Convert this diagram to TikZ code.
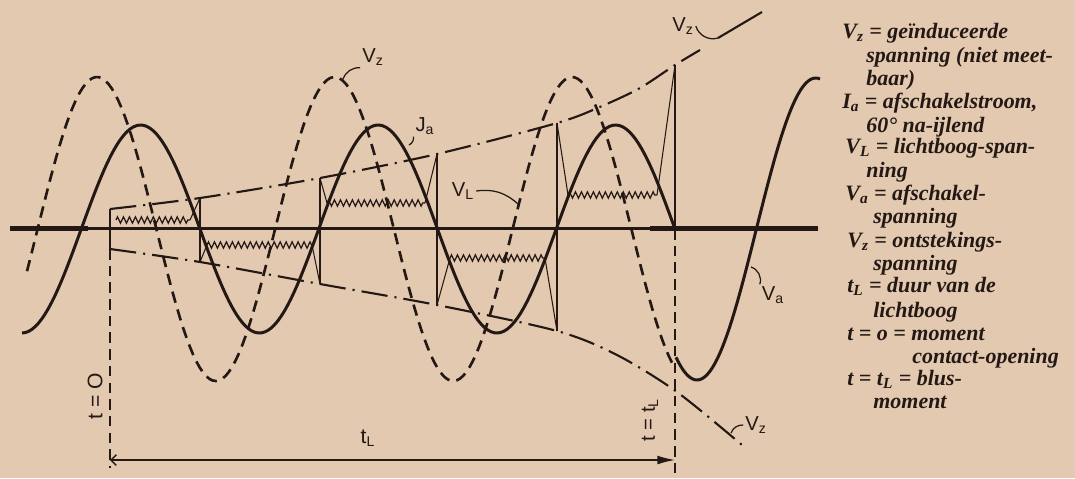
\documentclass[tikz,border=0pt]{standalone}
\usepackage{fontspec}
\setmainfont{Liberation Serif}
\setsansfont{Liberation Sans}
\usetikzlibrary{arrows.meta,decorations.pathmorphing}
\definecolor{papier}{RGB}{226,201,176}
\definecolor{inkt}{RGB}{36,24,20}

\begin{document}
\begin{tikzpicture}[
    x=0.02cm, y=-0.02cm,
    every node/.style={text=inkt},
    nullijn/.style={inkt, line width=1.6pt},
    stroom/.style={inkt, line width=1.7pt},
    inductie/.style={inkt, line width=1.5pt, dash pattern=on 6.5pt off 4pt},
    omhulling/.style={inkt, line width=1.2pt, dash pattern=on 15pt off 4pt on 1.2pt off 4pt},
    staaf/.style={inkt, line width=1.4pt},
    zaag/.style={inkt, line width=0.7pt, decorate,
        decoration={zigzag, segment length=3.4pt, amplitude=1.8pt}},
    piek/.style={inkt, line width=0.6pt},
    tijdlijn/.style={inkt, line width=0.8pt, dash pattern=on 6pt off 3.5pt},
    leider/.style={inkt, line width=0.7pt},
    opschrift/.style={font=\sffamily\fontsize{11.5}{13}\selectfont, inner sep=1pt},
    legenda/.style={font=\bfseries\itshape\fontsize{12.5}{13}\selectfont, anchor=base west, inner sep=0pt}
]

% --- papier (x = 0..1075, y = 0..478 van boven naar onder) ---
\fill[papier] (0,0) rectangle (1075,478);
\useasboundingbox (0,0) rectangle (1075,478);

% --- nullijn (tijdas) ---
\draw[nullijn] (10,228.5) -- (818,228.5);
\draw[nullijn, line width=2.8pt] (10,228.5) -- (88,228.5);
\draw[nullijn, line width=2.8pt] (650,228.5) -- (818,228.5);

% --- afschakelstroom I_a (getrokken) ---
\draw[stroom] plot[domain=22:675, samples=200] (\x, {229-104*sin((\x-81.25)*1.5158)});

% --- geinduceerde spanning V_z (gestreept) ---
\draw[inductie] plot[domain=27:675, samples=200] (\x, {229-152*cos((\x-97)*1.5158)});

% --- afschakelspanning V_a na het blusmoment ---
\draw[stroom] plot[domain=676:820, samples=60] (\x, {229+151*cos((\x-697)*1.5158)});

% --- omhullenden: ontstekingsspanning (streep-punt) ---
\draw[omhulling] plot[smooth] coordinates {(110,209) (200,198) (320,178) (437,154)
    (557,123) (602,106) (640,88) (675,65) (700,50)};
\draw[omhulling] plot[smooth] coordinates {(110,249) (200,262) (320,284) (437,305)
    (557,331) (617,355) (677,392) (742,445)};

% --- staven bij de stroomnuldoorgangen ---
\draw[staaf] (110,209) -- (110,249);
\draw[staaf] (200,198) -- (200,262);
\draw[staaf] (320,178) -- (320,284);
\draw[staaf] (437,154) -- (437,305);
\draw[staaf] (557,123) -- (557,331);
\draw[staaf] (675,65)  -- (675,229);

% --- lichtboogspanning V_L: zaagtand per halve periode ---
\draw[zaag] (116,220) -- (190,220);
\draw[zaag] (207,245) -- (312,245);
\draw[zaag] (327,203) -- (425,203);
\draw[zaag] (450,258) -- (545,258);
\draw[zaag] (568,195) -- (657,195);

% --- ontstekings- en blaaspieken (dun) ---
\draw[piek] (190,220) -- (200,198);
\draw[piek] (200,262) -- (207,245);
\draw[piek] (312,245) -- (320,284);
\draw[piek] (320,178) -- (327,203);
\draw[piek] (425,203) -- (437,154);
\draw[piek] (437,305) -- (450,258);
\draw[piek] (545,258) -- (557,331);
\draw[piek] (557,123) -- (568,195);
\draw[piek] (657,195) -- (675,65);

% --- tijdstippen t = 0 en t = t_L ---
\draw[tijdlijn] (110,249) -- (110,468);
\draw[tijdlijn] (675,229) -- (675,478);
\coordinate (tnul)  at (110,460);
\coordinate (tboog) at (675,460);
\draw[inkt, line width=0.8pt, {Straight Barb[length=3pt,width=6pt]}-{Latex[length=10pt,width=5pt]}]
    (tnul) -- (tboog);
\node[opschrift, font=\sffamily\large] (ltL) at (368,438) {t\textsubscript{L}};
\node[opschrift, font=\sffamily\large, rotate=90] (lt0) at (95,396) {t = O};
\node[opschrift, rotate=90] (ltL2) at (650,420) {t = t\textsubscript{L}};

% --- krommenopschriften met verwijslijntjes ---
\node[opschrift] (lVzA) at (373,57)  {V\textsubscript{z}};
\node[opschrift] (lIa)  at (425,126) {J\textsubscript{a}};
\node[opschrift] (lVL)  at (463,191) {V\textsubscript{L}};
\node[opschrift] (lVzB) at (683,26)  {V\textsubscript{z}};
\node[opschrift] (lVa)  at (773,295) {V\textsubscript{a}};
\node[opschrift] (lVzC) at (756,425) {V\textsubscript{z}};

\coordinate (hVzA) at (343,79);
\coordinate (hIa)  at (409,145);
\coordinate (hVL)  at (518,204);
\coordinate (hVzB) at (718,38);
\coordinate (eVzB) at (762,12);
\coordinate (hVa)  at (751,267);
\coordinate (hVzC) at (731,433);

\draw[leider] (lVzA.south west) to[bend right=35] (hVzA);
\draw[leider] (lIa.south west)  to[bend left=35]  (hIa);
\draw[leider] (lVL.east)        to[bend left=25]  (hVL);
\draw[leider] (lVzB.east)       to[bend right=45] (hVzB);
\draw[staaf, line width=1.2pt] (hVzB) -- (eVzB);
\draw[leider] (hVa)             to[bend left=45]  (lVa.north west);
\draw[leider] (lVzC.west)       to[bend right=35] (hVzC);

% --- legenda ---
\node[legenda] (leg1)  at (842,38)  {V\textsubscript{z} = geïnduceerde};
\node[legenda] (leg2)  at (866,62)  {spanning (niet meet-};
\node[legenda] (leg3)  at (866,85)  {baar)};
\node[legenda] (leg4)  at (842,108) {I\textsubscript{a} = afschakelstroom,};
\node[legenda] (leg5)  at (866,132) {60° na-ijlend};
\node[legenda] (leg6)  at (845,153) {V\textsubscript{L} = lichtboog-span-};
\node[legenda] (leg7)  at (866,177) {ning};
\node[legenda] (leg8)  at (845,200) {V\textsubscript{a} = afschakel-};
\node[legenda] (leg9)  at (873,223) {spanning};
\node[legenda] (leg10) at (847,247) {V\textsubscript{z} = ontstekings-};
\node[legenda] (leg11) at (873,270) {spanning};
\node[legenda] (leg12) at (847,292) {t\textsubscript{L} = duur van de};
\node[legenda] (leg13) at (873,317) {lichtboog};
\node[legenda] (leg14) at (847,340) {t = o = moment};
\node[legenda] (leg15) at (912,363) {contact-opening};
\node[legenda] (leg16) at (847,385) {t = t\textsubscript{L} = blus-};
\node[legenda] (leg17) at (873,408) {moment};

\end{tikzpicture}
\end{document}
